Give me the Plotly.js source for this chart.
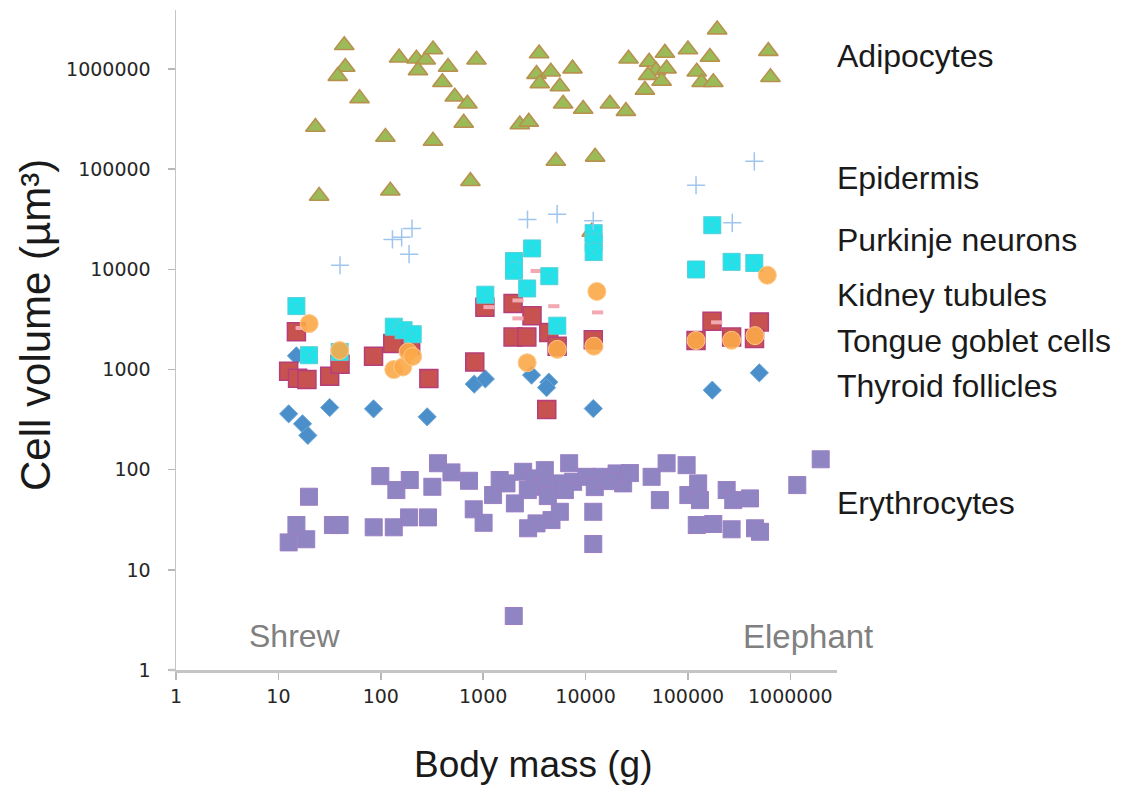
<!DOCTYPE html>
<html>
<head>
<meta charset="utf-8">
<script src="https://cdn.plot.ly/plotly-3.0.1.min.js"></script>
<style>
  html, body { margin: 0; padding: 0; background: #ffffff; }
  #chart { width: 1131px; height: 785px; }
</style>
</head>
<body>
<div id="chart"></div>
<script>
// Cell volume (µm³) against body mass (g) for several cell types across mammals

const adipoMass = [44, 45, 38, 62, 23, 111, 324, 25, 124, 751, 151, 223, 275, 324, 231, 454, 400, 528, 702, 646, 860,
  3520, 3320, 4580, 3570, 5610, 7460, 6040, 9480, 2280, 2790, 5130, 12400, 17300, 24800, 26300,
  41800, 59600, 48700, 61900, 40900, 55300, 38000, 100000, 164000, 193000, 122000, 136000, 177000, 610000, 640000, 11500];
const adipoVol = [1730000, 1050000, 850000, 510000, 264000, 210000, 192000, 54000, 61000, 76000, 1300000, 1270000, 1240000, 1570000, 970000, 1050000, 740000, 530000, 450000, 290000, 1240000,
  1430000, 890000, 940000, 720000, 670000, 1010000, 450000, 400000, 280000, 297000, 121000, 133000, 450000, 380000, 1270000,
  1180000, 1450000, 970000, 1010000, 870000, 760000, 620000, 1570000, 1320000, 2480000, 940000, 740000, 740000, 1510000, 830000, 23700];

const epiMass = [40, 130, 160, 202, 189, 2710, 5280, 11900, 120000, 445000, 271000];
const epiVol = [11000, 19900, 20900, 25600, 14200, 31500, 35600, 30600, 69200, 120000, 29200];

const purkMass = [15, 19.9, 39.7, 134, 167, 205, 1050, 3010, 2000, 2000, 2690, 4430, 5300, 12000, 12000, 12000, 173000, 120000, 267000, 445000];
const purkVol = [4300, 1390, 1500, 2680, 2470, 2250, 5590, 16200, 12100, 9700, 6450, 8550, 2740, 23000, 18500, 14900, 27600, 9980, 11900, 11600];

const kidneyDashMass = [16.7, 1140, 3300, 2190, 2190, 4900, 13100, 191000];
const kidneyDashVol = [2600, 4200, 9640, 4900, 3240, 4290, 3720, 2960];

const kidneyMass = [20, 39.7, 134, 164, 185, 205, 2690, 5300, 12900, 12060, 596000, 120000, 267000, 452000];
const kidneyVol = [2880, 1550, 1000, 1060, 1500, 1350, 1170, 1590, 6020, 1710, 8750, 1950, 1960, 2180];

const gobletMass = [15, 12.6, 15.4, 19, 31.7, 40, 85, 131, 196, 295, 828, 1040, 1960, 3000, 1960, 2670, 4380, 5280, 4180, 11900, 172000, 498000, 120000, 267000, 447000];
const gobletVol = [2380, 964, 820, 796, 859, 1130, 1360, 1820, 1750, 815, 1190, 4200, 4570, 3450, 2110, 2110, 2340, 1710, 400, 1980, 3030, 2990, 1950, 2110, 2040];

const thyroidMass = [15, 12.6, 17.2, 19.4, 31.7, 85, 284, 818, 1050, 2970, 4380, 4160, 11900, 173000, 498000];
const thyroidVol = [1370, 361, 287, 220, 417, 405, 337, 715, 806, 880, 748, 660, 408, 623, 927];

const eryMass = [12.6, 15, 18.7, 19.9, 34.1, 39.6, 85.3, 134, 189, 289, 99, 142, 192, 319, 362, 490, 728, 809, 1010, 1250,
  1450, 1690, 2040, 2460, 2750, 3190, 4000, 4650, 5610, 6920, 5610, 7570, 10200, 11900, 11900, 14300, 20100, 23300, 3320,
  44200, 53200, 61900, 97100, 101000, 126000, 131000, 122000, 177000, 239000, 277000, 267000, 404000, 452000, 506000,
  1170000, 1980000, 1990, 2730, 4280, 6280, 12300, 17300, 27100, 4000];
const eryVol = [18.8, 28, 20.2, 53.7, 28, 28, 26.6, 26.6, 33.4, 33.4, 86.3, 62.6, 78.8, 67.5, 116, 94, 77.5, 40.2, 29.5, 55.8,
  78.8, 73, 46.1, 95.3, 26, 81.9, 67.5, 31.4, 38, 116, 73, 75.7, 84.9, 38, 18.1, 84.9, 91.8, 73, 29.1,
  84.9, 49.7, 116, 111, 55.8, 73, 49.7, 28, 28.7, 62.6, 49.7, 25.4, 51.7, 26, 24,
  70.2, 127, 3.46, 62.6, 54.5, 62.6, 67, 76.9, 92.5, 99];

const tickVals = [1, 10, 100, 1000, 10000, 100000, 1000000];
const tickText = ['1', '10', '100', '1000', '10000', '100000', '1000000'];

const seriesLabels = ['Adipocytes', 'Epidermis', 'Purkinje neurons', 'Kidney tubules', 'Tongue goblet cells', 'Thyroid follicles', 'Erythrocytes'];
const labelLevels = [1350000, 81000, 19500, 5600, 1950, 680, 46];

function pts(name, x, y, marker) {
  return { type: 'scatter', mode: 'markers', name: name, x: x, y: y, marker: marker, hoverinfo: 'x+y+name' };
}

const traces = [
  pts('Erythrocytes', eryMass, eryVol,
      { symbol: 'square-x', size: 17, color: '#8d86c3', line: { color: '#9b7fc2', width: 1 } }),
  pts('Thyroid follicles', thyroidMass, thyroidVol,
      { symbol: 'diamond', size: 14, color: '#4a8fca', line: { color: '#6aa6d8', width: 1 } }),
  pts('Adipocytes', adipoMass, adipoVol,
      { symbol: 'triangle-up', size: 17, color: '#9bbb59', line: { color: '#b8914f', width: 1.6 } }),
  pts('Tongue goblet cells', gobletMass, gobletVol,
      { symbol: 'square', size: 18, color: '#c8524f', line: { color: '#b53e7c', width: 1.5 } }),
  pts('Kidney tubules (dash)', kidneyDashMass, kidneyDashVol,
      { symbol: 'line-ew', size: 8, color: '#f2a9b1', line: { color: '#f2a9b1', width: 4 } }),
  pts('Purkinje neurons', purkMass, purkVol,
      { symbol: 'square-x', size: 17, color: '#1fe3eb', line: { color: '#56cfd8', width: 1 } }),
  pts('Kidney tubules', kidneyMass, kidneyVol,
      { symbol: 'circle', size: 18, color: 'rgba(251,168,72,0.9)', line: { color: '#fdc98a', width: 1 } }),
  pts('Epidermis', epiMass, epiVol,
      { symbol: 'cross-thin-open', size: 13, color: '#9fc5ee', line: { color: '#9fc5ee', width: 1.5 } })
];

const plotLeft = 176, plotRight = 837, plotTop = 10, plotBottom = 670;
const pw = plotRight - plotLeft, ph = plotBottom - plotTop;
const textFont = 'Liberation Sans, Arial, sans-serif';

const annotations = [];
seriesLabels.forEach(function (txt, i) {
  annotations.push({
    text: txt, xref: 'paper', yref: 'y', x: 0.997, y: Math.log10(labelLevels[i]),
    xanchor: 'left', yanchor: 'middle', showarrow: false,
    font: { family: textFont, size: 32, color: '#1a1a1a' }
  });
});
annotations.push({
  text: 'Shrew', xref: 'paper', yref: 'paper', x: (295 - plotLeft) / pw, y: (plotBottom - 636) / ph,
  xanchor: 'center', yanchor: 'middle', showarrow: false,
  font: { family: textFont, size: 32, color: '#808080' }
});
annotations.push({
  text: 'Elephant', xref: 'paper', yref: 'paper', x: (741 - plotLeft) / pw, y: (plotBottom - 636) / ph,
  xanchor: 'left', yanchor: 'middle', showarrow: false,
  font: { family: textFont, size: 33, color: '#808080' }
});
// axis titles
annotations.push({
  text: 'Body mass (g)', xref: 'paper', yref: 'paper', x: (533 - plotLeft) / pw, y: (plotBottom - 764) / ph,
  xanchor: 'center', yanchor: 'middle', showarrow: false,
  font: { family: textFont, size: 37, color: '#1a1a1a' }
});
annotations.push({
  text: 'Cell volume (µm³)', xref: 'paper', yref: 'paper', x: (35 - plotLeft) / pw, y: (plotBottom - 325) / ph,
  xanchor: 'center', yanchor: 'middle', textangle: -90, showarrow: false,
  font: { family: textFont, size: 42, color: '#1a1a1a' }
});

const layout = {
  width: 1131, height: 785,
  margin: { l: plotLeft, r: 1131 - plotRight, t: plotTop, b: 785 - plotBottom, pad: 0 },
  paper_bgcolor: '#ffffff', plot_bgcolor: '#ffffff',
  showlegend: false,
  xaxis: {
    type: 'log', range: [0, 6.456], showgrid: false, zeroline: false,
    showline: true, linecolor: '#c4c4c4', linewidth: 2.5,
    ticks: 'outside', ticklen: 7, tickwidth: 1.5, tickcolor: '#b8b8b8',
    tickvals: tickVals, ticktext: tickText, ticklabelstandoff: 1,
    tickfont: { family: 'DejaVu Sans, sans-serif', size: 19, color: '#262626' }
  },
  yaxis: {
    type: 'log', range: [0, 6.59], showgrid: false, zeroline: false,
    showline: true, linecolor: '#c4c4c4', linewidth: 1.5,
    ticks: 'outside', ticklen: 7, tickwidth: 1.5, tickcolor: '#b8b8b8',
    tickvals: tickVals, ticktext: tickText, ticklabelstandoff: 13,
    tickfont: { family: 'DejaVu Sans, sans-serif', size: 19, color: '#262626' }
  },
  // short stub of the x axis line reaching left past the y axis
  shapes: [{
    type: 'line', xref: 'paper', yref: 'paper', x0: -0.01, x1: 0, y0: 0, y1: 0,
    line: { color: '#c4c4c4', width: 2.5 }
  }],
  annotations: annotations
};

Plotly.newPlot('chart', traces, layout, { displayModeBar: false, staticPlot: true });
</script>
</body>
</html>
